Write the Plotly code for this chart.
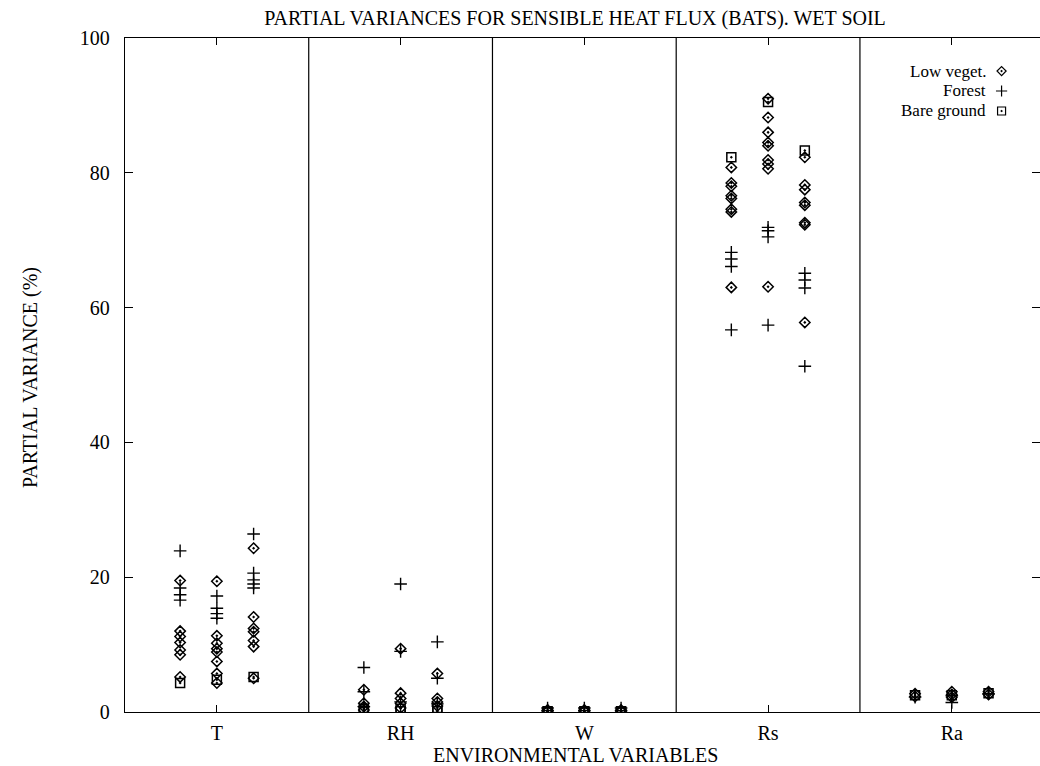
import plotly.graph_objects as go

categories = ["T", "RH", "W", "Rs", "Ra"]
col_offsets = [-0.2, 0.0, 0.2]

# values per category -> per column (3 columns per category)
low_veget = {
    "T":  [[19.5, 12.0, 11.2, 10.3, 9.2, 8.5, 5.2],
           [19.4, 11.3, 10.2, 9.4, 8.9, 7.5, 5.7, 4.3],
           [24.3, 14.1, 12.4, 11.9, 10.6, 9.7, 5.0]],
    "RH": [[3.3, 1.3, 0.8, 0.3],
           [9.4, 2.8, 2.0, 1.3, 0.6],
           [5.7, 2.0, 1.5, 0.9]],
    "W":  [[0.3, 0.1], [0.3, 0.1], [0.3, 0.1]],
    "Rs": [[80.8, 78.5, 78.0, 76.6, 76.2, 74.6, 74.2, 63.0],
           [91.0, 88.2, 86.0, 84.5, 84.0, 81.9, 81.3, 80.6, 63.1],
           [82.3, 78.2, 77.5, 75.6, 75.2, 72.6, 72.3, 57.8]],
    "Ra": [[2.7, 2.3], [3.0, 2.6, 2.2], [3.0, 2.6]],
}
forest = {
    "T":  [[23.9, 18.4, 17.4, 16.6],
           [17.2, 15.4, 14.6, 13.9],
           [26.4, 20.6, 19.6, 19.0, 18.4]],
    "RH": [[6.6, 3.0, 0.8], [19.0, 9.0, 1.5], [10.4, 5.0, 1.2]],
    "W":  [[0.6, 0.2], [0.6, 0.2], [0.6, 0.2]],
    "Rs": [[68.2, 67.2, 66.1, 56.7],
           [71.9, 71.4, 70.5, 57.4],
           [65.1, 64.1, 62.9, 51.3]],
    "Ra": [[2.2], [2.4, 1.4], [2.7]],
}
bare_ground = {
    "T":  [[4.3], [4.8], [5.2]],
    "RH": [[0.5, 0.1], [0.5, 0.1], [0.6, 0.1]],
    "W":  [[0.1, 0.0], [0.1, 0.0], [0.1, 0.0]],
    "Rs": [[82.3], [90.5], [83.3]],
    "Ra": [[2.5], [2.5], [2.8]],
}

series = [
    ("Low veget.", low_veget, dict(symbol="diamond-open-dot", size=8, color="black", line=dict(width=1.5, color="black"))),
    ("Forest", forest, dict(symbol="cross-thin-open", size=9, color="black", line=dict(width=1.4, color="black"))),
    ("Bare ground", bare_ground, dict(symbol="square-open-dot", size=9, color="black", line=dict(width=1.5, color="black"))),
]

FONT = "Liberation Serif, Times New Roman, serif"
FS = 20
LEG_FS = 17

fig = go.Figure()
for name, data, marker in series:
    xs, ys = [], []
    for ci, cat in enumerate(categories):
        for k, col in enumerate(data[cat]):
            for v in col:
                xs.append(ci + 1 + col_offsets[k])
                ys.append(v)
    fig.add_trace(go.Scatter(x=xs, y=ys, mode="markers", name=name, marker=marker,
                             showlegend=False))

# legend keys (text left, symbol right) on an overlay axis spanning the plot area
leg_y = [0.9510, 0.9214, 0.8917]
for (name, data, marker), ly in zip(series, leg_y):
    small = dict(marker)
    small["size"] = marker["size"] - 1
    small["line"] = dict(width=1.2, color="black")
    fig.add_trace(go.Scatter(x=[0.958], y=[ly], mode="markers", marker=small,
                             xaxis="x2", yaxis="y2", showlegend=False, hoverinfo="skip"))
    fig.add_annotation(x=0.943, y=ly, xref="paper", yref="paper", text=name,
                       showarrow=False, xanchor="right", yanchor="middle",
                       font=dict(family=FONT, size=LEG_FS, color="black"))

for s in [1.5, 2.5, 3.5, 4.5]:
    fig.add_shape(type="line", x0=s, x1=s, y0=0, y1=1, xref="x", yref="paper",
                  line=dict(color="black", width=1.2))

fig.update_layout(
    width=1040, height=766,
    margin=dict(l=125, r=0, t=38, b=54),
    paper_bgcolor="white", plot_bgcolor="white",
    font=dict(family=FONT, size=FS, color="black"),
    xaxis=dict(range=[0.5, 5.48], tickmode="array", tickvals=[1, 2, 3, 4, 5],
               ticktext=categories, ticks="inside", ticklen=7, tickcolor="black",
               showline=True, linecolor="black", linewidth=1.4, mirror="ticks",
               showgrid=False, zeroline=False, ticklabelstandoff=3,
               tickfont=dict(family=FONT, size=FS)),
    yaxis=dict(range=[0, 100], tickvals=[0, 20, 40, 60, 80, 100],
               ticks="inside", ticklen=8, tickcolor="black",
               showline=True, linecolor="black", linewidth=1.4, mirror="ticks",
               showgrid=False, zeroline=False, ticklabelstandoff=10,
               tickfont=dict(family=FONT, size=FS)),
    xaxis2=dict(range=[0, 1], overlaying="x", visible=False, anchor="y2"),
    yaxis2=dict(range=[0, 1], overlaying="y", visible=False, anchor="x2"),
    showlegend=False,
    title=dict(text="PARTIAL VARIANCES FOR SENSIBLE HEAT FLUX (BATS). WET SOIL",
               x=575 / 1040, xanchor="center", y=1 - 18 / 766, yanchor="middle",
               xref="container", yref="container",
               font=dict(family=FONT, size=FS, color="black")),
)

fig.add_annotation(text="ENVIRONMENTAL VARIABLES", x=(575 - 125) / 915, y=-(755 - 712) / 674,
                   xref="paper", yref="paper", showarrow=False, yanchor="middle",
                   font=dict(family=FONT, size=FS))
fig.add_annotation(text="PARTIAL VARIANCE (%)", x=-(125 - 30) / 915, y=(712 - 378) / 674,
                   xref="paper", yref="paper", showarrow=False, textangle=-90,
                   xanchor="center", yanchor="middle",
                   font=dict(family=FONT, size=FS))

fig.write_html("out.html")
